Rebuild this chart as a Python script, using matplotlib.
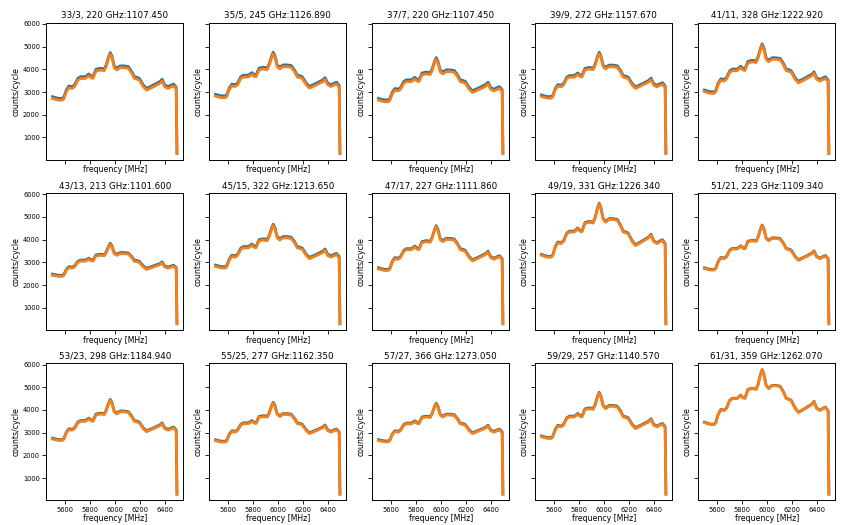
import numpy as np
import matplotlib
matplotlib.use("Agg")
import matplotlib.pyplot as plt

# panel titles
titles = ["33/3, 220 GHz:1107.450", "35/5, 245 GHz:1126.890", "37/7, 220 GHz:1107.450",
          "39/9, 272 GHz:1157.670", "41/11, 328 GHz:1222.920",
          "43/13, 213 GHz:1101.600", "45/15, 322 GHz:1213.650", "47/17, 227 GHz:1111.860",
          "49/19, 331 GHz:1226.340", "51/21, 223 GHz:1109.340",
          "53/23, 298 GHz:1184.940", "55/25, 277 GHz:1162.350", "57/27, 366 GHz:1273.050",
          "59/29, 257 GHz:1140.570", "61/31, 359 GHz:1262.070"]

freq = [5500, 5526, 5550, 5580, 5592, 5611, 5632, 5658, 5677, 5703, 5725, 5764,
        5791, 5809, 5825, 5849, 5883, 5915, 5930, 5950, 5963, 5976, 5995, 6016,
        6042, 6074, 6108, 6135, 6156, 6180, 6196, 6228, 6254, 6294, 6334, 6360,
        6379, 6400, 6426, 6453, 6471, 6492, 6498]
base = [2794, 2750, 2720, 2720, 2790, 3090, 3265, 3235, 3310, 3600, 3675, 3675,
        3795, 3705, 3680, 4000, 4045, 4015, 4190, 4560, 4735, 4590, 4150, 4045,
        4150, 4150, 4120, 3900, 3675, 3640, 3600, 3310, 3160, 3265, 3380, 3455,
        3560, 3310, 3235, 3310, 3350, 3205, 300]
base_start = 2794
base_peak = 4735

# level at 5500 MHz and at the 5963 MHz peak for each panel (blue)
start_blue = [2795, 2900, 2720, 2870, 3088, 2485, 2880, 2762, 3353, 2762,
              2762, 2690, 2700, 2860, 3468]
peak_blue = [4734, 4750, 4514, 4750, 5118, 3840, 4677, 4615, 5603, 4646,
             4470, 4337, 4300, 4778, 5780]
# orange sits a little below blue
offset_orange = [80, 80, 80, 70, 70, 50, 60, 50, 40, 30, 40, 40, 40, 40, 20]

freq = np.array(freq)
base = np.array(base, dtype=float)

fig, axes = plt.subplots(3, 5, figsize=(8.41, 5.25), dpi=100, sharex=True, sharey=True)
fig.subplots_adjust(left=0.055, right=0.993, top=0.957, bottom=0.047,
                    wspace=0.19, hspace=0.243)

for i, ax in enumerate(axes.flat):
    k = (peak_blue[i] - start_blue[i]) / (base_peak - base_start)
    blue = start_blue[i] + (base - base_start) * k
    blue[-1] = base[-1]
    orange = blue - offset_orange[i]
    orange[-1] = base[-1]
    ax.plot(freq, blue, color="#1f77b4", lw=2.0)
    ax.plot(freq, orange, color="#ff7f0e", lw=2.0)
    ax.set_title(titles[i], fontsize=6.3, pad=3)
    ax.set_xlabel("frequency [MHz]", fontsize=5.6, labelpad=1)
    ax.set_ylabel("counts/cycle", fontsize=5.6, labelpad=2)
    ax.tick_params(labelsize=4.8, length=3, width=0.6, pad=1.5)
    for s in ax.spines.values():
        s.set_linewidth(0.7)

axes[0, 0].set_xticks([5600, 5800, 6000, 6200, 6400])
axes[0, 0].set_yticks([1000, 2000, 3000, 4000, 5000, 6000])

fig.savefig("out.png", dpi=100)
